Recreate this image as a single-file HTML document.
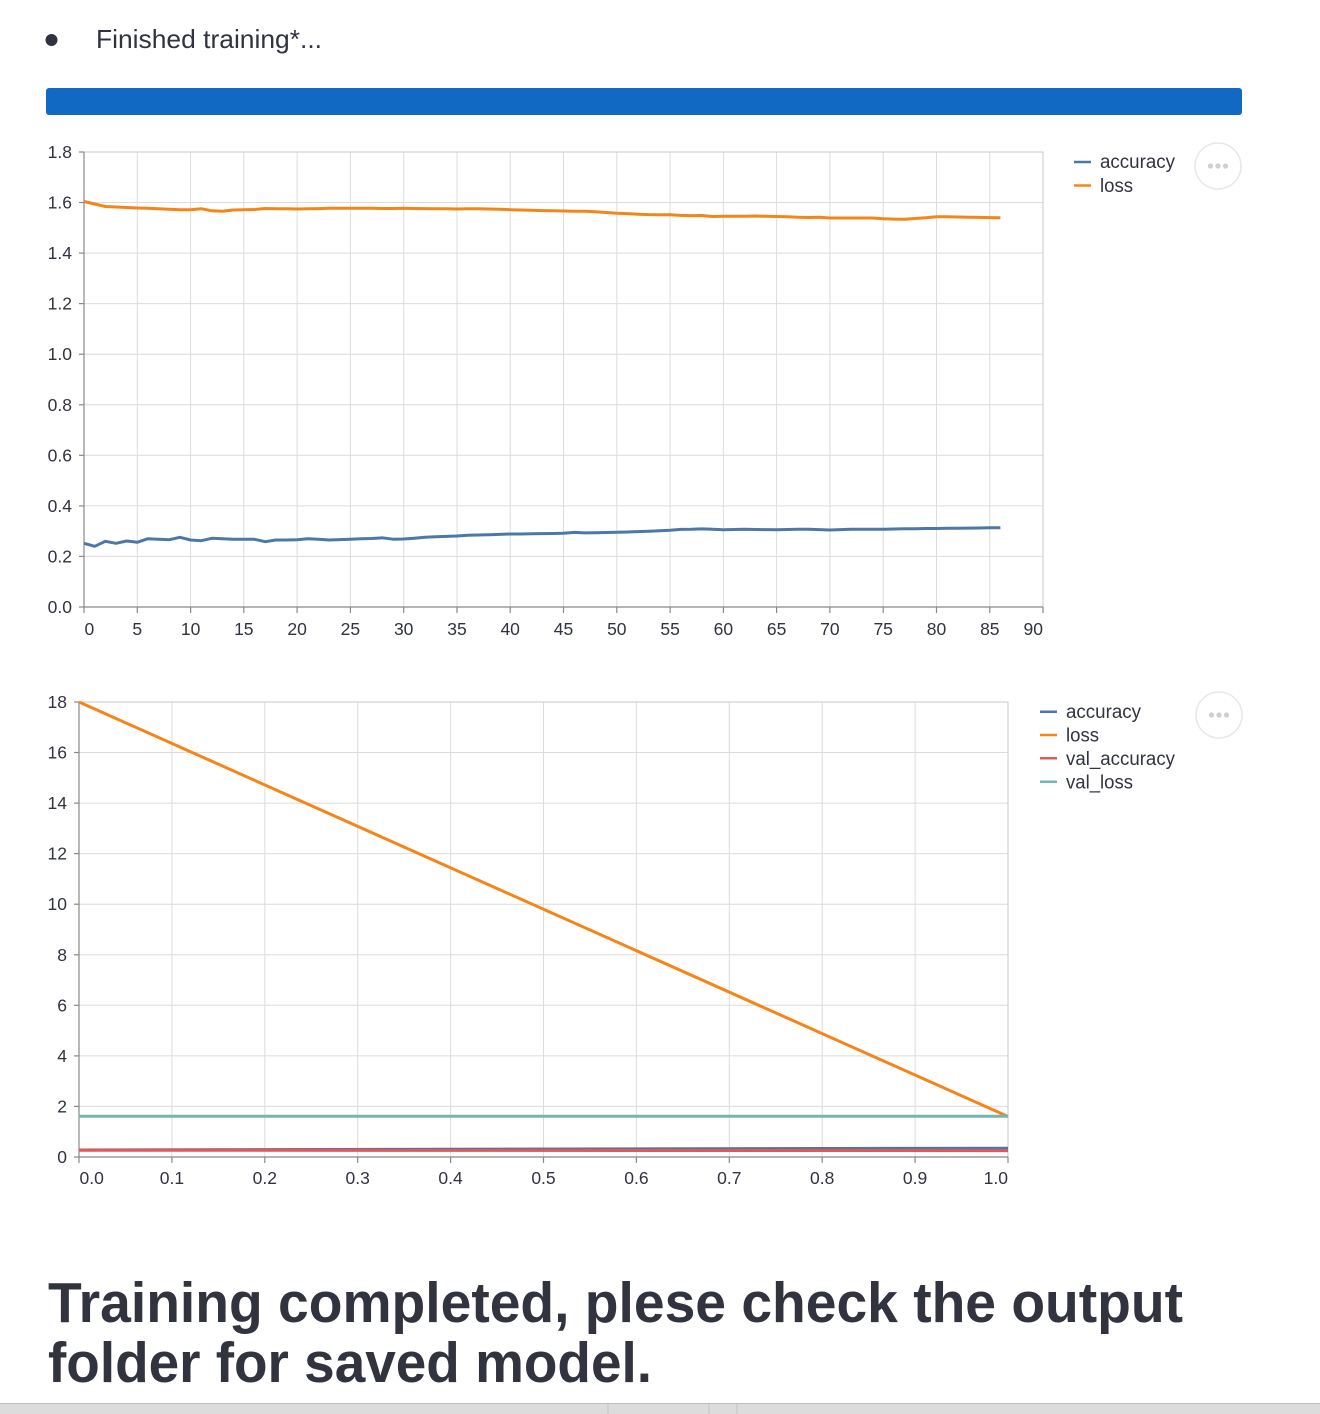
<!DOCTYPE html>
<html>
<head>
<meta charset="utf-8">
<style>
  html,body{margin:0;padding:0;background:#fff;}
  body{width:1320px;height:1414px;overflow:hidden;}
  svg{display:block;}
  text{font-family:"Liberation Sans",sans-serif;fill:#31333f;}
  .tk{font-size:17.5px;}
  .lg{font-size:19px;}
</style>
</head>
<body>
<svg width="1320" height="1414" viewBox="0 0 1320 1414" xmlns="http://www.w3.org/2000/svg">
  <rect x="0" y="0" width="1320" height="1414" fill="#fff"/>

  <!-- bullet + status -->
  <circle cx="51.5" cy="40" r="6" fill="#31333f"/>
  <text x="96" y="48" style="font-size:26px" textLength="226" lengthAdjust="spacingAndGlyphs">Finished training*...</text>

  <!-- progress bar -->
  <rect x="46" y="88" width="1196" height="27" rx="3" ry="3" fill="#1169c4"/>

  <!-- ================= CHART 1 ================= -->
  <g stroke="#dcdcdc" stroke-width="1" fill="none">
    <!-- vertical grid -->
    <line x1="137.3" y1="152" x2="137.3" y2="607"/>
    <line x1="190.6" y1="152" x2="190.6" y2="607"/>
    <line x1="243.8" y1="152" x2="243.8" y2="607"/>
    <line x1="297.1" y1="152" x2="297.1" y2="607"/>
    <line x1="350.4" y1="152" x2="350.4" y2="607"/>
    <line x1="403.7" y1="152" x2="403.7" y2="607"/>
    <line x1="457" y1="152" x2="457" y2="607"/>
    <line x1="510.2" y1="152" x2="510.2" y2="607"/>
    <line x1="563.5" y1="152" x2="563.5" y2="607"/>
    <line x1="616.8" y1="152" x2="616.8" y2="607"/>
    <line x1="670.1" y1="152" x2="670.1" y2="607"/>
    <line x1="723.4" y1="152" x2="723.4" y2="607"/>
    <line x1="776.6" y1="152" x2="776.6" y2="607"/>
    <line x1="829.9" y1="152" x2="829.9" y2="607"/>
    <line x1="883.2" y1="152" x2="883.2" y2="607"/>
    <line x1="936.5" y1="152" x2="936.5" y2="607"/>
    <line x1="989.8" y1="152" x2="989.8" y2="607"/>
    <!-- horizontal grid -->
    <line x1="84" y1="556.4" x2="1043" y2="556.4"/>
    <line x1="84" y1="505.9" x2="1043" y2="505.9"/>
    <line x1="84" y1="455.3" x2="1043" y2="455.3"/>
    <line x1="84" y1="404.8" x2="1043" y2="404.8"/>
    <line x1="84" y1="354.2" x2="1043" y2="354.2"/>
    <line x1="84" y1="303.6" x2="1043" y2="303.6"/>
    <line x1="84" y1="253.1" x2="1043" y2="253.1"/>
    <line x1="84" y1="202.5" x2="1043" y2="202.5"/>
  </g>
  <!-- frame -->
  <rect x="84" y="152" width="959" height="455" fill="none" stroke="#c8c8c8" stroke-width="1"/>
  <!-- axis domains and ticks -->
  <g stroke="#888" stroke-width="1.2" fill="none">
    <line x1="84" y1="152" x2="84" y2="607"/>
    <line x1="84" y1="607" x2="1043" y2="607"/>
    <!-- y ticks -->
    <line x1="79" y1="607" x2="84" y2="607"/>
    <line x1="79" y1="556.4" x2="84" y2="556.4"/>
    <line x1="79" y1="505.9" x2="84" y2="505.9"/>
    <line x1="79" y1="455.3" x2="84" y2="455.3"/>
    <line x1="79" y1="404.8" x2="84" y2="404.8"/>
    <line x1="79" y1="354.2" x2="84" y2="354.2"/>
    <line x1="79" y1="303.6" x2="84" y2="303.6"/>
    <line x1="79" y1="253.1" x2="84" y2="253.1"/>
    <line x1="79" y1="202.5" x2="84" y2="202.5"/>
    <line x1="79" y1="152" x2="84" y2="152"/>
    <!-- x ticks -->
    <line x1="84" y1="607" x2="84" y2="613"/>
    <line x1="137.3" y1="607" x2="137.3" y2="613"/>
    <line x1="190.6" y1="607" x2="190.6" y2="613"/>
    <line x1="243.8" y1="607" x2="243.8" y2="613"/>
    <line x1="297.1" y1="607" x2="297.1" y2="613"/>
    <line x1="350.4" y1="607" x2="350.4" y2="613"/>
    <line x1="403.7" y1="607" x2="403.7" y2="613"/>
    <line x1="457" y1="607" x2="457" y2="613"/>
    <line x1="510.2" y1="607" x2="510.2" y2="613"/>
    <line x1="563.5" y1="607" x2="563.5" y2="613"/>
    <line x1="616.8" y1="607" x2="616.8" y2="613"/>
    <line x1="670.1" y1="607" x2="670.1" y2="613"/>
    <line x1="723.4" y1="607" x2="723.4" y2="613"/>
    <line x1="776.6" y1="607" x2="776.6" y2="613"/>
    <line x1="829.9" y1="607" x2="829.9" y2="613"/>
    <line x1="883.2" y1="607" x2="883.2" y2="613"/>
    <line x1="936.5" y1="607" x2="936.5" y2="613"/>
    <line x1="989.8" y1="607" x2="989.8" y2="613"/>
    <line x1="1043" y1="607" x2="1043" y2="613"/>
  </g>
  <!-- y labels -->
  <g class="tk" text-anchor="end">
    <text x="72" y="613">0.0</text>
    <text x="72" y="562.4">0.2</text>
    <text x="72" y="511.9">0.4</text>
    <text x="72" y="461.3">0.6</text>
    <text x="72" y="410.8">0.8</text>
    <text x="72" y="360.2">1.0</text>
    <text x="72" y="309.6">1.2</text>
    <text x="72" y="259.1">1.4</text>
    <text x="72" y="208.5">1.6</text>
    <text x="72" y="158">1.8</text>
  </g>
  <!-- x labels -->
  <g class="tk" text-anchor="middle">
    <text x="84.5" y="635" text-anchor="start">0</text>
    <text x="137.3" y="635">5</text>
    <text x="190.6" y="635">10</text>
    <text x="243.8" y="635">15</text>
    <text x="297.1" y="635">20</text>
    <text x="350.4" y="635">25</text>
    <text x="403.7" y="635">30</text>
    <text x="457" y="635">35</text>
    <text x="510.2" y="635">40</text>
    <text x="563.5" y="635">45</text>
    <text x="616.8" y="635">50</text>
    <text x="670.1" y="635">55</text>
    <text x="723.4" y="635">60</text>
    <text x="776.6" y="635">65</text>
    <text x="829.9" y="635">70</text>
    <text x="883.2" y="635">75</text>
    <text x="936.5" y="635">80</text>
    <text x="989.8" y="635">85</text>
    <text x="1043" y="635" text-anchor="end">90</text>
  </g>
  <!-- accuracy -->
  <polyline fill="none" stroke="#4c78a8" stroke-width="3" stroke-linejoin="round" points="
84,543.3 94.7,546.3 105.3,541.3 116,543.3 126.6,541 137.3,542.3 147.9,538.7 158.6,539.3 169.3,539.7 179.9,537.3
190.6,540 201.2,540.7 211.9,538.3 222.5,538.8 233.2,539.3 243.8,539.3 254.5,539.3 265.2,541.7 275.8,540 286.5,540
297.1,539.7 307.8,538.7 318.4,539.3 329.1,540 339.7,539.6 350.4,539.2 361.1,538.8 371.7,538.5 382.4,537.8 393,539.2
403.7,539 414.3,538.2 425,537.2 435.7,536.8 446.3,536.4 457,536 467.6,535.3 478.3,535 488.9,534.8 499.6,534.4
510.2,534 520.9,534 531.6,533.8 542.2,533.6 552.9,533.5 563.5,533.3 574.2,532.4 584.8,532.9 595.5,532.7 606.1,532.5
616.8,532.3 627.5,532 638.1,531.6 648.8,531.2 659.4,530.8 670.1,530.3 680.7,529.4 691.4,529.3 702.1,528.9 712.7,529.3
723.4,529.7 734,529.5 744.7,529.3 755.3,529.5 766,529.6 776.6,529.7 787.3,529.5 798,529.3 808.6,529.3 819.3,529.6
829.9,530 840.6,529.6 851.2,529.3 861.9,529.2 872.5,529.2 883.2,529.3 893.9,529 904.5,528.8 915.2,528.7 925.8,528.5
936.5,528.5 947.1,528.3 957.8,528.2 968.5,528.1 979.1,528 989.8,527.8 1000.4,527.7"/>
  <!-- loss -->
  <polyline fill="none" stroke="#f58518" stroke-width="3" stroke-linejoin="round" points="
84,201.5 94.7,204 105.3,206.5 116,207 126.6,207.5 137.3,208 147.9,208.3 158.6,208.7 169.3,209.3 179.9,209.8
190.6,209.8 201.2,208.7 211.9,210.8 222.5,211.2 233.2,210 243.8,209.7 254.5,209.5 265.2,208.5 275.8,208.8 286.5,208.8
297.1,209 307.8,208.7 318.4,208.6 329.1,208.3 339.7,208.3 350.4,208.3 361.1,208.3 371.7,208.3 382.4,208.5 393,208.5
403.7,208.3 414.3,208.5 425,208.6 435.7,208.7 446.3,208.8 457,209 467.6,208.8 478.3,208.8 488.9,209 499.6,209.3
510.2,209.7 520.9,210 531.6,210.3 542.2,210.6 552.9,210.8 563.5,211 574.2,211.2 584.8,211.3 595.5,211.8 606.1,212.5
616.8,213.2 627.5,213.6 638.1,214.2 648.8,214.6 659.4,214.7 670.1,214.7 680.7,215.4 691.4,215.6 702.1,215.5 712.7,216.5
723.4,216.2 734,216.2 744.7,216.3 755.3,216 766,216.3 776.6,216.5 787.3,216.8 798,217.3 808.6,217.5 819.3,217.2
829.9,218 840.6,218 851.2,218 861.9,218 872.5,218 883.2,218.7 893.9,219.1 904.5,219.3 915.2,218.5 925.8,217.8
936.5,216.7 947.1,216.8 957.8,217 968.5,217.2 979.1,217.4 989.8,217.6 1000.4,217.7"/>
  <!-- legend 1 -->
  <line x1="1074" y1="162" x2="1091" y2="162" stroke="#4c78a8" stroke-width="2.5"/>
  <line x1="1074" y1="185.5" x2="1091" y2="185.5" stroke="#f58518" stroke-width="2.5"/>
  <text class="lg" x="1100" y="168" textLength="75" lengthAdjust="spacingAndGlyphs">accuracy</text>
  <text class="lg" x="1100" y="192" textLength="33" lengthAdjust="spacingAndGlyphs">loss</text>
  <!-- menu 1 -->
  <circle cx="1218" cy="166" r="23" fill="#fff" stroke="#e8e8e8" stroke-width="1.5"/>
  <circle cx="1210.5" cy="166" r="2.6" fill="#cfcfcf"/>
  <circle cx="1218" cy="166" r="2.6" fill="#cfcfcf"/>
  <circle cx="1225.5" cy="166" r="2.6" fill="#cfcfcf"/>

  <!-- ================= CHART 2 ================= -->
  <g stroke="#dcdcdc" stroke-width="1" fill="none">
    <line x1="171.9" y1="702" x2="171.9" y2="1157"/>
    <line x1="264.8" y1="702" x2="264.8" y2="1157"/>
    <line x1="357.7" y1="702" x2="357.7" y2="1157"/>
    <line x1="450.6" y1="702" x2="450.6" y2="1157"/>
    <line x1="543.5" y1="702" x2="543.5" y2="1157"/>
    <line x1="636.4" y1="702" x2="636.4" y2="1157"/>
    <line x1="729.3" y1="702" x2="729.3" y2="1157"/>
    <line x1="822.2" y1="702" x2="822.2" y2="1157"/>
    <line x1="915.1" y1="702" x2="915.1" y2="1157"/>
    <line x1="79" y1="1106.4" x2="1008" y2="1106.4"/>
    <line x1="79" y1="1055.9" x2="1008" y2="1055.9"/>
    <line x1="79" y1="1005.3" x2="1008" y2="1005.3"/>
    <line x1="79" y1="954.8" x2="1008" y2="954.8"/>
    <line x1="79" y1="904.2" x2="1008" y2="904.2"/>
    <line x1="79" y1="853.6" x2="1008" y2="853.6"/>
    <line x1="79" y1="803.1" x2="1008" y2="803.1"/>
    <line x1="79" y1="752.5" x2="1008" y2="752.5"/>
  </g>
  <rect x="79" y="702" width="929" height="455" fill="none" stroke="#c8c8c8" stroke-width="1"/>
  <g stroke="#888" stroke-width="1.2" fill="none">
    <line x1="79" y1="702" x2="79" y2="1157"/>
    <line x1="79" y1="1157" x2="1008" y2="1157"/>
    <line x1="74" y1="1157" x2="79" y2="1157"/>
    <line x1="74" y1="1106.4" x2="79" y2="1106.4"/>
    <line x1="74" y1="1055.9" x2="79" y2="1055.9"/>
    <line x1="74" y1="1005.3" x2="79" y2="1005.3"/>
    <line x1="74" y1="954.8" x2="79" y2="954.8"/>
    <line x1="74" y1="904.2" x2="79" y2="904.2"/>
    <line x1="74" y1="853.6" x2="79" y2="853.6"/>
    <line x1="74" y1="803.1" x2="79" y2="803.1"/>
    <line x1="74" y1="752.5" x2="79" y2="752.5"/>
    <line x1="74" y1="702" x2="79" y2="702"/>
    <line x1="79" y1="1157" x2="79" y2="1163"/>
    <line x1="171.9" y1="1157" x2="171.9" y2="1163"/>
    <line x1="264.8" y1="1157" x2="264.8" y2="1163"/>
    <line x1="357.7" y1="1157" x2="357.7" y2="1163"/>
    <line x1="450.6" y1="1157" x2="450.6" y2="1163"/>
    <line x1="543.5" y1="1157" x2="543.5" y2="1163"/>
    <line x1="636.4" y1="1157" x2="636.4" y2="1163"/>
    <line x1="729.3" y1="1157" x2="729.3" y2="1163"/>
    <line x1="822.2" y1="1157" x2="822.2" y2="1163"/>
    <line x1="915.1" y1="1157" x2="915.1" y2="1163"/>
    <line x1="1008" y1="1157" x2="1008" y2="1163"/>
  </g>
  <g class="tk" text-anchor="end">
    <text x="67" y="1163">0</text>
    <text x="67" y="1112.4">2</text>
    <text x="67" y="1061.9">4</text>
    <text x="67" y="1011.3">6</text>
    <text x="67" y="960.8">8</text>
    <text x="67" y="910.2">10</text>
    <text x="67" y="859.6">12</text>
    <text x="67" y="809.1">14</text>
    <text x="67" y="758.5">16</text>
    <text x="67" y="708">18</text>
  </g>
  <g class="tk" text-anchor="middle">
    <text x="79.5" y="1184" text-anchor="start">0.0</text>
    <text x="171.9" y="1184">0.1</text>
    <text x="264.8" y="1184">0.2</text>
    <text x="357.7" y="1184">0.3</text>
    <text x="450.6" y="1184">0.4</text>
    <text x="543.5" y="1184">0.5</text>
    <text x="636.4" y="1184">0.6</text>
    <text x="729.3" y="1184">0.7</text>
    <text x="822.2" y="1184">0.8</text>
    <text x="915.1" y="1184">0.9</text>
    <text x="1008" y="1184" text-anchor="end">1.0</text>
  </g>
  <!-- series -->
  <line x1="79" y1="1150" x2="1008" y2="1148.2" stroke="#4c78a8" stroke-width="3"/>
  <line x1="79" y1="702" x2="1008" y2="1116.5" stroke="#f58518" stroke-width="3"/>
  <line x1="79" y1="1150.2" x2="1008" y2="1150.6" stroke="#e45756" stroke-width="3"/>
  <line x1="79" y1="1116.3" x2="1008" y2="1116.3" stroke="#72b7b2" stroke-width="3"/>
  <!-- legend 2 -->
  <line x1="1040" y1="711.7" x2="1057" y2="711.7" stroke="#4c78a8" stroke-width="2.5"/>
  <line x1="1040" y1="735" x2="1057" y2="735" stroke="#f58518" stroke-width="2.5"/>
  <line x1="1040" y1="758.3" x2="1057" y2="758.3" stroke="#e45756" stroke-width="2.5"/>
  <line x1="1040" y1="781.7" x2="1057" y2="781.7" stroke="#72b7b2" stroke-width="2.5"/>
  <text class="lg" x="1066" y="718" textLength="75" lengthAdjust="spacingAndGlyphs">accuracy</text>
  <text class="lg" x="1066" y="741.5" textLength="33" lengthAdjust="spacingAndGlyphs">loss</text>
  <text class="lg" x="1066" y="765" textLength="109" lengthAdjust="spacingAndGlyphs">val_accuracy</text>
  <text class="lg" x="1066" y="788.5" textLength="67" lengthAdjust="spacingAndGlyphs">val_loss</text>
  <!-- menu 2 -->
  <circle cx="1219" cy="715" r="23" fill="#fff" stroke="#e8e8e8" stroke-width="1.5"/>
  <circle cx="1211.5" cy="715" r="2.6" fill="#cfcfcf"/>
  <circle cx="1219" cy="715" r="2.6" fill="#cfcfcf"/>
  <circle cx="1226.5" cy="715" r="2.6" fill="#cfcfcf"/>

  <!-- heading -->
  <text x="48" y="1322" style="font-size:57px;font-weight:700" textLength="1135" lengthAdjust="spacingAndGlyphs">Training completed, plese check the output</text>
  <text x="48" y="1382" style="font-size:57px;font-weight:700" textLength="604" lengthAdjust="spacingAndGlyphs">folder for saved model.</text>

  <!-- bottom bar -->
  <rect x="0" y="1403" width="1320" height="11" fill="#dcdcdc"/>
  <line x1="0" y1="1403.5" x2="1320" y2="1403.5" stroke="#bdbdbd" stroke-width="1"/>
  <line x1="608" y1="1404" x2="608" y2="1414" stroke="#c4c4c4" stroke-width="1"/>
  <line x1="709" y1="1404" x2="709" y2="1414" stroke="#c4c4c4" stroke-width="1"/>
  <line x1="737" y1="1404" x2="737" y2="1414" stroke="#c4c4c4" stroke-width="1"/>
</svg>
</body>
</html>
